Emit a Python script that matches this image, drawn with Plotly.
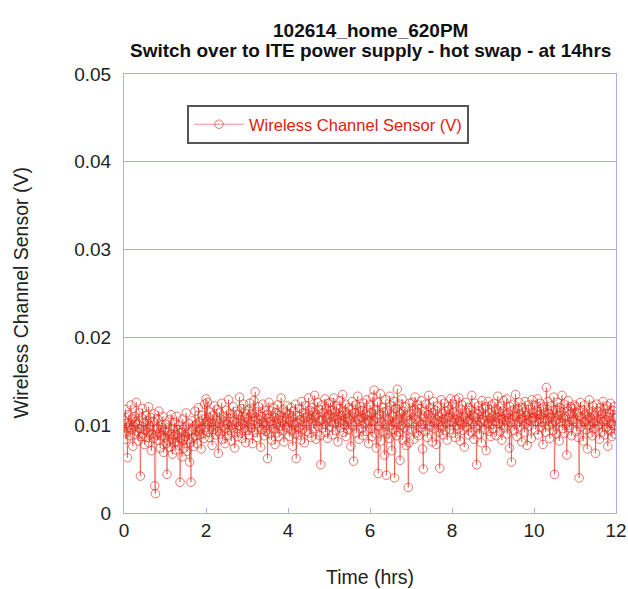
import numpy as np
import plotly.graph_objects as go

# Wireless channel sensor readings in millivolts, one sample per minute, one list per hour
hr00 = [10.6, 9.1, 11.8, 8.4, 10.2, 6.3, 9.7, 11.2, 10.0, 8.8,
        12.3, 9.5, 10.7, 7.6, 9.9, 11.0, 8.9, 10.4, 12.6, 9.3,
        10.1, 8.2, 11.4, 9.6, 4.2, 8.7, 10.8, 11.9, 9.0, 10.3,
        7.8, 9.4, 11.1, 8.6, 10.5, 9.2, 12.1, 8.0, 9.8, 10.9,
        7.1, 9.0, 10.4, 8.5, 11.3, 3.1, 2.2, 8.9, 9.6, 10.7,
        8.3, 11.6, 9.1, 7.4, 10.0, 8.8, 9.7, 11.0, 6.9, 9.4]
hr01 = [8.6, 10.1, 7.9, 4.4, 9.3, 8.2, 10.6, 7.5, 9.0, 11.2,
        8.4, 6.7, 9.6, 8.0, 10.3, 7.2, 8.9, 11.0, 8.1, 9.5,
        7.7, 10.0, 3.5, 8.5, 9.2, 6.4, 10.7, 8.3, 7.4, 9.8,
        8.7, 11.4, 7.0, 9.1, 8.4, 10.2, 5.8, 8.0, 3.5, 9.4,
        10.5, 8.6, 7.6, 9.9, 11.6, 8.8, 10.1, 7.9, 9.3, 12.0,
        8.9, 10.4, 9.6, 7.3, 11.1, 9.0, 10.7, 8.5, 12.4, 9.7]
hr02 = [13.0, 10.4, 12.6, 9.2, 10.9, 8.6, 11.5, 9.8, 10.3, 7.7,
        11.1, 9.5, 12.2, 10.0, 8.9, 10.6, 11.8, 9.3, 6.8, 10.2,
        11.4, 9.0, 10.7, 12.5, 8.4, 9.9, 11.0, 10.4, 7.9, 9.6,
        11.7, 10.1, 8.8, 12.9, 9.4, 10.8, 11.3, 8.2, 10.0, 9.7,
        12.1, 10.5, 7.4, 9.2, 11.6, 10.3, 8.7, 11.2, 9.9, 13.2,
        10.6, 9.1, 11.9, 8.5, 10.2, 12.4, 9.6, 10.9, 8.0, 11.3]
hr03 = [10.7, 9.4, 11.8, 8.9, 12.5, 10.1, 9.7, 11.3, 7.9, 10.5,
        12.8, 9.2, 13.8, 10.9, 11.5, 8.6, 10.2, 12.1, 9.8, 10.6,
        7.5, 11.0, 9.5, 12.4, 10.3, 8.8, 11.7, 10.0, 9.3, 11.2,
        6.2, 10.8, 12.6, 9.0, 10.4, 11.6, 8.3, 10.1, 12.0, 9.6,
        10.9, 7.8, 11.4, 10.2, 9.1, 12.3, 10.7, 8.7, 11.1, 9.9,
        13.1, 10.5, 9.4, 11.8, 8.1, 10.0, 11.5, 9.7, 10.8, 12.2]
hr04 = [9.8, 11.3, 8.7, 10.5, 12.0, 9.4, 10.9, 7.6, 11.6, 10.1,
        9.0, 12.4, 6.2, 10.3, 11.1, 8.9, 9.7, 11.9, 10.6, 8.3,
        12.7, 10.0, 9.5, 11.4, 8.0, 10.8, 12.2, 9.3, 11.0, 10.4,
        13.1, 9.1, 11.7, 10.7, 8.6, 12.0, 10.2, 11.5, 9.6, 13.4,
        10.9, 8.4, 11.2, 12.6, 9.9, 11.8, 10.5, 8.8, 5.5, 10.6,
        12.3, 9.7, 11.4, 10.1, 13.0, 9.2, 11.9, 10.8, 8.5, 12.5]
hr05 = [11.2, 9.8, 12.6, 10.4, 11.7, 8.9, 10.9, 13.1, 10.2, 11.5,
        9.4, 12.2, 10.7, 8.1, 11.9, 10.3, 12.8, 9.7, 11.1, 10.5,
        13.5, 9.2, 11.6, 10.0, 12.4, 8.7, 11.3, 10.8, 9.5, 12.0,
        10.6, 11.8, 7.6, 10.1, 12.7, 9.9, 5.9, 11.4, 10.4, 12.3,
        9.1, 11.0, 13.3, 10.7, 8.4, 11.5, 12.1, 9.6, 10.9, 11.7,
        8.8, 12.5, 10.2, 11.3, 9.3, 12.9, 10.6, 11.1, 7.9, 10.4]
hr06 = [12.3, 9.6, 11.4, 8.7, 13.2, 10.5, 14.0, 9.1, 11.8, 7.4,
        10.8, 12.6, 4.5, 9.9, 11.2, 13.6, 8.2, 10.4, 12.0, 9.3,
        11.5, 6.6, 10.1, 12.9, 4.3, 9.0, 11.7, 10.6, 8.5, 13.3,
        10.0, 12.2, 7.1, 11.0, 9.5, 12.7, 4.0, 10.3, 11.9, 8.8,
        14.1, 10.7, 9.2, 12.4, 6.0, 11.3, 10.0, 13.0, 8.3, 11.6,
        9.7, 12.1, 10.9, 7.7, 11.1, 9.4, 2.9, 8.0, 12.5, 10.6]
hr07 = [11.3, 9.5, 12.6, 10.2, 8.4, 11.8, 13.2, 10.7, 9.1, 11.5,
        12.3, 8.8, 10.4, 11.9, 9.7, 12.8, 10.1, 7.3, 5.0, 10.9,
        11.6, 9.3, 12.4, 10.5, 8.6, 11.2, 13.4, 10.0, 9.8, 12.0,
        10.8, 8.1, 11.4, 12.7, 9.6, 10.3, 11.7, 7.8, 10.6, 12.2,
        9.2, 11.0, 5.1, 10.4, 12.9, 9.9, 11.3, 8.9, 10.7, 12.5,
        9.4, 11.6, 10.2, 8.3, 12.1, 10.9, 11.8, 9.5, 13.0, 10.5]
hr08 = [10.3, 12.4, 9.1, 11.5, 10.7, 8.6, 12.9, 10.0, 11.2, 9.6,
        13.1, 10.5, 8.2, 11.8, 10.1, 12.3, 9.4, 11.0, 7.5, 10.8,
        12.6, 9.8, 11.4, 10.4, 8.9, 12.0, 10.6, 11.7, 9.2, 13.4,
        10.2, 11.1, 8.4, 12.5, 10.9, 9.7, 5.5, 11.3, 10.0, 12.2,
        9.0, 11.6, 10.3, 8.0, 12.8, 10.7, 11.9, 9.5, 10.5, 12.1,
        7.1, 11.0, 10.2, 12.7, 9.3, 11.4, 10.8, 8.7, 12.3, 10.1]
hr09 = [11.1, 9.6, 12.5, 10.4, 11.8, 8.8, 10.9, 13.3, 10.2, 11.5,
        9.3, 12.2, 10.7, 8.3, 11.6, 10.0, 12.8, 9.7, 11.2, 10.5,
        13.0, 9.0, 11.4, 10.8, 7.4, 12.1, 10.3, 5.8, 11.7, 10.6,
        12.4, 9.4, 11.0, 13.5, 10.1, 8.7, 11.9, 10.4, 12.6, 9.8,
        11.3, 10.7, 8.1, 12.0, 10.9, 11.5, 9.2, 12.7, 10.2, 11.1,
        7.7, 10.6, 12.3, 9.9, 11.8, 10.5, 8.5, 12.9, 10.8, 11.4]
hr10 = [10.9, 12.3, 9.5, 11.6, 10.4, 13.0, 8.9, 11.2, 10.7, 12.5,
        9.8, 11.9, 10.3, 7.8, 12.1, 10.8, 11.4, 9.2, 14.3, 10.6,
        12.7, 9.9, 11.3, 8.5, 10.9, 12.2, 10.1, 11.7, 9.4, 13.2,
        4.4, 10.5, 11.8, 9.0, 12.6, 10.7, 11.1, 8.2, 12.0, 10.3,
        11.5, 13.4, 9.6, 10.8, 12.4, 9.1, 11.0, 10.2, 6.6, 11.6,
        12.8, 10.0, 9.7, 11.3, 12.1, 8.8, 10.6, 11.9, 10.4, 12.3]
hr11 = [10.7, 12.1, 9.3, 11.4, 10.2, 8.6, 4.0, 11.0, 12.6, 9.8,
        10.9, 11.7, 8.2, 10.4, 12.3, 9.5, 11.2, 10.6, 7.3, 11.8,
        10.0, 12.9, 9.1, 10.8, 11.5, 8.8, 12.2, 10.3, 9.6, 11.1,
        6.8, 10.5, 12.4, 9.9, 11.6, 10.1, 8.4, 12.0, 10.7, 11.3,
        9.2, 12.7, 10.4, 8.9, 11.9, 10.6, 9.7, 12.2, 7.6, 10.9,
        11.4, 9.4, 12.5, 10.2, 8.7, 11.7, 10.0, 12.1, 9.0, 10.8]

SAMPLE_INTERVAL_HRS = 1.0 / 60.0

hours = [hr00, hr01, hr02, hr03, hr04, hr05, hr06, hr07, hr08, hr09, hr10, hr11]
sensor_mv = np.concatenate([np.array(h, dtype=float) for h in hours])
sensor_v = sensor_mv / 1000.0
time_hrs = np.arange(len(sensor_v)) * SAMPLE_INTERVAL_HRS

x_ticks = [0, 2, 4, 6, 8, 10, 12]
y_ticks = [0, 0.01, 0.02, 0.03, 0.04, 0.05]
y_tick_text = ["0", "0.01", "0.02", "0.03", "0.04", "0.05"]

title_lines = ["102614_home_620PM",
               "Switch over to ITE power supply - hot swap - at 14hrs"]
x_title = "Time (hrs)"
y_title = "Wireless Channel Sensor (V)"

RED = "rgb(226,32,14)"
AXIS_BLUE = "rgb(172,172,250)"
FONT = "Liberation Sans, Arial, sans-serif"
TEXT = "#222"

# plot box in pixels: left 124, right 616, top 74, bottom 513
PLOT_L, PLOT_R, PLOT_T, PLOT_B = 124, 616, 74, 513
PW, PH = PLOT_R - PLOT_L, PLOT_B - PLOT_T


def px_to_paper_x(px):
    return (px - PLOT_L) / PW


def px_to_paper_y(py):
    return (PLOT_B - py) / PH


fig = go.Figure()
fig.add_trace(go.Scatter(
    x=time_hrs,
    y=sensor_v,
    mode="lines+markers",
    name="Wireless Channel Sensor (V)",
    line=dict(color="rgba(226,32,14,0.5)", width=1),
    marker=dict(symbol="circle-open", size=8.5,
                color="rgba(226,32,14,0.6)",
                line=dict(color="rgba(226,32,14,0.6)", width=1)),
))

annotations = [
    dict(text="<b>%s</b>" % title_lines[0], x=0.5, y=px_to_paper_y(30),
         xref="paper", yref="paper", xanchor="center", yanchor="middle",
         showarrow=False, font=dict(family=FONT, size=19, color="#111")),
    dict(text="<b>%s</b>" % title_lines[1], x=0.5, y=px_to_paper_y(51),
         xref="paper", yref="paper", xanchor="center", yanchor="middle",
         showarrow=False, font=dict(family=FONT, size=19, color="#111")),
    dict(text=x_title, x=0.5, y=px_to_paper_y(577),
         xref="paper", yref="paper", xanchor="center", yanchor="middle",
         showarrow=False, font=dict(family=FONT, size=19.5, color=TEXT)),
    dict(text=y_title, x=px_to_paper_x(20), y=0.5, textangle=-90,
         xref="paper", yref="paper", xanchor="center", yanchor="middle",
         showarrow=False, font=dict(family=FONT, size=19.5, color=TEXT)),
]

fig.update_layout(
    width=628,
    height=589,
    margin=dict(l=PLOT_L, r=628 - PLOT_R, t=PLOT_T, b=589 - PLOT_B, autoexpand=False),
    paper_bgcolor="white",
    plot_bgcolor="white",
    font=dict(family=FONT, size=19, color=TEXT),
    showlegend=True,
    legend=dict(
        x=px_to_paper_x(187), y=px_to_paper_y(105), xanchor="left", yanchor="top",
        bgcolor="white", bordercolor="#555", borderwidth=2,
        font=dict(family=FONT, size=16.5, color=RED),
        itemwidth=50,
    ),
    annotations=annotations,
    xaxis=dict(
        range=[0, 12],
        tickvals=x_ticks,
        ticks="inside", ticklen=5, tickcolor=AXIS_BLUE,
        showgrid=False,
        showline=True, linecolor=AXIS_BLUE, linewidth=1, mirror=True,
        zeroline=False, automargin=False,
        tickfont=dict(family=FONT, size=19, color=TEXT),
    ),
    yaxis=dict(
        range=[0, 0.05],
        tickvals=y_ticks,
        ticktext=y_tick_text,
        ticks="", ticklabelstandoff=8,
        showgrid=True, gridcolor=AXIS_BLUE, gridwidth=1,
        showline=True, linecolor=AXIS_BLUE, linewidth=1, mirror=True,
        zeroline=False, automargin=False,
        tickfont=dict(family=FONT, size=19, color=TEXT),
    ),
)

fig.write_html("out.html")
